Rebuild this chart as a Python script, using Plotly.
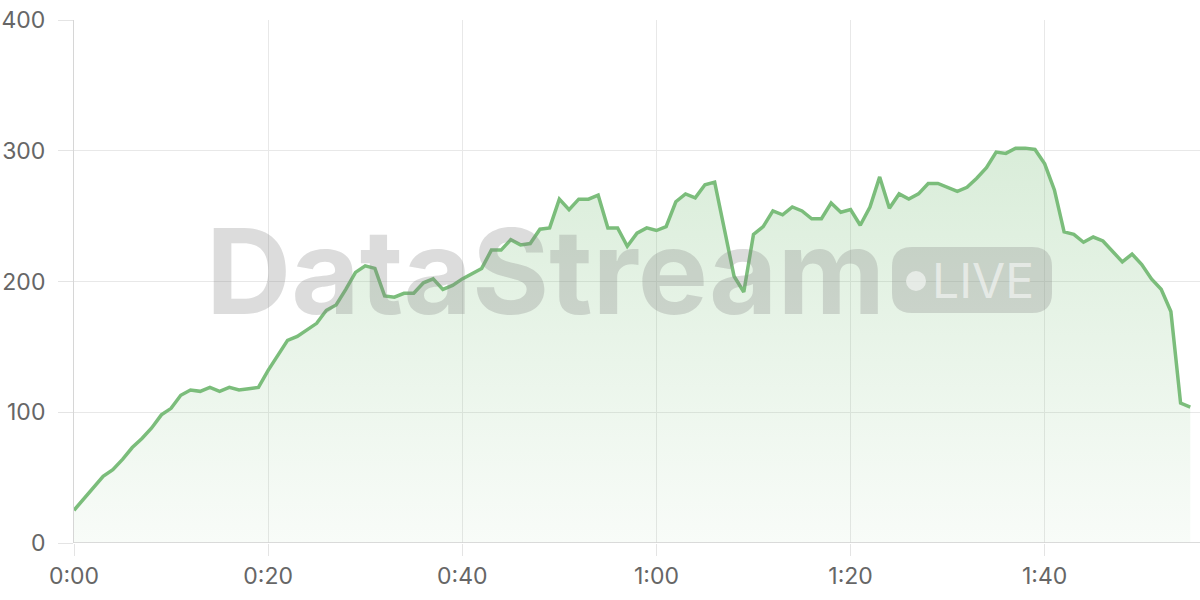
import plotly.graph_objects as go

minutes = list(range(116))
values = [25, 34, 43, 51, 56, 64, 73, 80, 88, 98,
          103, 113, 117, 116, 119, 116, 119, 117, 118, 119,
          132, 143, 155, 158, 163, 168, 178, 182, 194, 207,
          212, 210, 189, 188, 191, 191, 199, 202, 194, 197,
          202, 206, 210, 224, 224, 232, 228, 229, 240, 241,
          263, 255, 263, 263, 266, 241, 241, 227, 237, 241,
          239, 242, 261, 267, 264, 274, 276, 240, 204, 192,
          236, 242, 254, 251, 257, 254, 248, 248, 260, 253,
          255, 243, 257, 280, 256, 267, 263, 267, 275, 275,
          272, 269, 272, 279, 287, 299, 298, 302, 302, 301,
          290, 270, 238, 236, 230, 234, 231, 223, 215, 221,
          213, 202, 194, 177, 107, 104]
tick_vals = [0, 20, 40, 60, 80, 100]
tick_text = ["0:00", "0:20", "0:40", "1:00", "1:20", "1:40"]
y_ticks = [0, 100, 200, 300, 400]

fig = go.Figure()
fig.add_trace(go.Scatter(
    x=minutes, y=values, mode="lines",
    line=dict(color="#7bbd7b", width=3.5),
    fill="tozeroy",
    fillgradient=dict(type="vertical",
                      colorscale=[[0, "rgba(120,190,120,0.05)"], [1, "rgba(120,190,120,0.28)"]]),
    hoverinfo="skip",
))

font = "Inter, Roboto, sans-serif"
fig.update_layout(
    width=1200, height=600,
    margin=dict(l=74, r=0, t=20, b=57),
    paper_bgcolor="white", plot_bgcolor="white",
    showlegend=False,
    font=dict(family=font, size=23, color="#666666"),
    xaxis=dict(range=[0, 116], tickvals=tick_vals, ticktext=tick_text,
               showgrid=True, gridcolor="#e8e8e8", gridwidth=1,
               ticks="outside", ticklen=12, tickcolor="#e4e4e4",
               showline=False, zeroline=False, automargin=False,
               tickfont=dict(family=font, size=23, color="#666666")),
    yaxis=dict(range=[0, 400], tickvals=y_ticks,
               showgrid=True, gridcolor="#e8e8e8", gridwidth=1,
               ticks="outside", ticklen=15, tickcolor="#e4e4e4",
               showline=True, linecolor="#d6d6d6", linewidth=1,
               zeroline=False, ticklabelstandoff=8, automargin=False,
               tickfont=dict(family=font, size=23, color="#666666")),
)
# bottom axis line
fig.add_shape(type="line", xref="paper", yref="y", x0=0, x1=1, y0=0, y1=0,
              line=dict(color="#cfcfcf", width=1.5), layer="above")

def px(xp):
    return (xp - 74) / 1126
def py(yp):
    return (543 - yp) / 523

# watermark
fig.add_annotation(xref="paper", yref="paper", x=px(545), y=py(271),
                   text="<b>DataStream</b>", showarrow=False,
                   font=dict(family=font, size=118, color="rgba(128,128,128,0.28)"),
                   xanchor="center", yanchor="middle")
x0, x1, y0, y1, r = 892, 1052, 247, 313, 20
path = (f"M {px(x0 + r)} {py(y0)} L {px(x1 - r)} {py(y0)} "
        f"Q {px(x1)} {py(y0)} {px(x1)} {py(y0 + r)} L {px(x1)} {py(y1 - r)} "
        f"Q {px(x1)} {py(y1)} {px(x1 - r)} {py(y1)} L {px(x0 + r)} {py(y1)} "
        f"Q {px(x0)} {py(y1)} {px(x0)} {py(y1 - r)} L {px(x0)} {py(y0 + r)} "
        f"Q {px(x0)} {py(y0)} {px(x0 + r)} {py(y0)} Z")
fig.add_shape(type="path", xref="paper", yref="paper", path=path,
              fillcolor="rgba(128,128,128,0.28)", line=dict(width=0), layer="above")
fig.add_shape(type="circle", xref="paper", yref="paper",
              x0=px(906), x1=px(926), y0=py(291), y1=py(271),
              fillcolor="rgba(255,255,255,0.55)", line=dict(width=0), layer="above")
fig.add_annotation(xref="paper", yref="paper", x=px(983), y=py(280),
                   text="LIVE", showarrow=False,
                   font=dict(family=font, size=48, color="rgba(255,255,255,0.55)"),
                   xanchor="center", yanchor="middle")

fig.write_html("out.html", config={"displayModeBar": False},
               post_script="document.body.style.margin='0';document.body.style.overflow='hidden';")
